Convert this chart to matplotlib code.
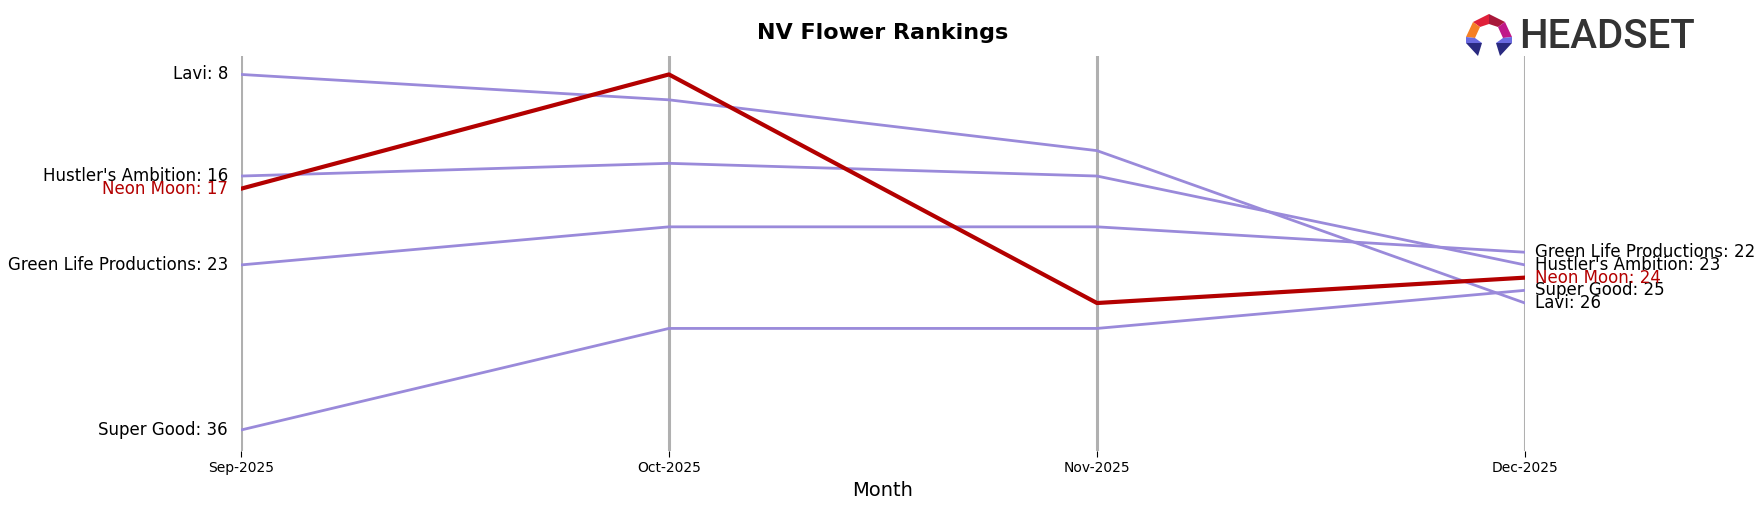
import matplotlib.pyplot as plt
from matplotlib.patches import Polygon

months = ["Sep-2025", "Oct-2025", "Nov-2025", "Dec-2025"]
brands = ["Lavi", "Hustler's Ambition", "Green Life Productions", "Super Good", "Neon Moon"]
lavi = [8, 10, 14, 26]
hustlers = [16, 15, 16, 23]
green_life = [23, 20, 20, 22]
super_good = [36, 28, 28, 25]
neon_moon = [17, 8, 26, 24]
ranks = [lavi, hustlers, green_life, super_good, neon_moon]

highlight = "Neon Moon"
purple = "#9a8ada"
red = "#b30000"

fig = plt.figure(figsize=(17.65, 5.07), dpi=100)
ax = fig.add_axes([0.1365, 0.1105, 0.7275, 0.779])

x = list(range(len(months)))
for xi in x:
    ax.axvline(xi, color="#b0b0b0", lw=2.2, zorder=0)

for name, r in zip(brands, ranks):
    if name == highlight:
        ax.plot(x, r, color=red, lw=3, zorder=3)
    else:
        ax.plot(x, r, color=purple, lw=2, zorder=2)

# labels on the left (first month) and right (last month)
for name, r in zip(brands, ranks):
    c = red if name == highlight else "black"
    ax.text(-0.03, r[0], f"{name}: {r[0]}", ha="right", va="center", fontsize=12, color=c)
    ax.text(x[-1] + 0.023, r[-1], f"{name}: {r[-1]}", ha="left", va="center", fontsize=12, color=c)

ax.set_xlim(0, 3)
ax.set_ylim(37.65, 6.55)
ax.set_xticks(x)
ax.set_xticklabels(months, fontsize=10)
ax.set_yticks([])
ax.set_xlabel("Month", fontsize=14)
for s in ax.spines.values():
    s.set_visible(False)
ax.tick_params(axis="x", length=4)
ax.set_title("NV Flower Rankings", fontsize=16, fontweight="bold", pad=12)

# logo
fig.text(1519 / 1765, 1 - 37 / 507, "HEADSET", fontsize=29, color="#333333", family="Roboto",
         fontweight="medium", ha="left", va="center")
lax = fig.add_axes([1460 / 1765, 1 - 62 / 507, 60 / 1765, 52 / 507])
lax.set_xlim(0, 60)
lax.set_ylim(52, 0)
lax.axis("off")
pieces = [
    ([(13, 12), (29, 4), (29, 14), (20, 17)], "#e0203a"),
    ([(29, 4), (45, 12), (38, 17), (29, 14)], "#a8183a"),
    ([(13, 12), (20, 17), (15, 28), (6, 27)], "#f58025"),
    ([(45, 12), (52, 27), (43, 28), (38, 17)], "#c01888"),
    ([(6, 27), (15, 28), (22, 33), (6, 33)], "#6a6ae0"),
    ([(6, 33), (22, 33), (18, 46)], "#2a2a80"),
    ([(43, 28), (52, 27), (52, 33), (36, 33)], "#6a6ae0"),
    ([(36, 33), (52, 33), (40, 46)], "#2a2a80"),
]
for pts, col in pieces:
    lax.add_patch(Polygon(pts, closed=True, color=col, lw=0))

fig.savefig("out.png", dpi=100)
